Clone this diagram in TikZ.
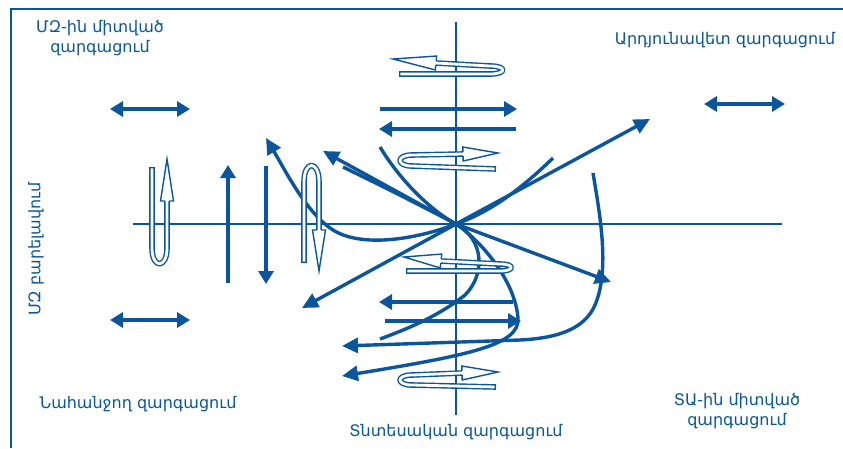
\documentclass[tikz,border=0pt]{standalone}
\usepackage{fontspec}
\setmainfont{DejaVu Sans}
\usetikzlibrary{arrows.meta,calc}
\definecolor{db}{RGB}{10,85,155}
\begin{document}
\begin{tikzpicture}[x=1pt,y=-1pt,
  axis/.style={draw=db,line width=2.2pt},
  frameline/.style={draw=db,line width=2pt},
  arr/.style={draw=db,line width=3.8pt,-{Triangle[length=13pt,width=15pt]}},
  darr/.style={draw=db,line width=3.6pt,{Triangle[length=13pt,width=15pt]}-{Triangle[length=13pt,width=15pt]}},
  crv/.style={draw=db,line width=3.4pt},
  crvarr/.style={crv,-{Triangle[length=16pt,width=15pt]}},
  rout/.style={draw=db,line width=5.6pt,line cap=butt,line join=round},
  rin/.style={draw=white,line width=2.8pt,line cap=butt,line join=round,shorten <=1.4pt},
  rhead/.style={draw=db,fill=white,line width=1.4pt,line join=miter},
  lbl/.style={text=db,font=\fontsize{16}{20}\selectfont,align=center,inner sep=0pt},
]
\useasboundingbox (0,0) rectangle (843,448);
% frame
\draw[frameline] (11,448) -- (11,9) -- (843,9);
% axes
\coordinate (O) at (456,224);
\coordinate (axl) at (133,224);
\coordinate (axr) at (782,224);
\coordinate (axt) at (456,22);
\coordinate (axb) at (456,415);
\draw[axis] (axl) -- (axr);
\draw[axis] (axt) -- (axb);

% labels
\node[lbl] (t1) at (100,38) {ՄԶ-ին միտված\\զարգացում};
\node[lbl] (t2) at (725,40) {Արդյունավետ զարգացում};
\node[lbl,rotate=90] (t3) at (36,249) {ՄԶ բարելավում};
\node[lbl] (t4) at (138,404) {Նահանջող զարգացում};
\node[lbl] (t5) at (456,432) {Տնտեսական զարգացում};
\node[lbl] (t6) at (737,411) {ՏԱ-ին միտված\\զարգացում};

% double arrows
\coordinate (d1a) at (110,109); \coordinate (d1b) at (190,109);
\coordinate (d2a) at (110,320); \coordinate (d2b) at (190,320);
\coordinate (d3a) at (704,104); \coordinate (d3b) at (785,104);
\draw[darr] (d1a) -- (d1b);
\draw[darr] (d2a) -- (d2b);
\draw[darr] (d3a) -- (d3b);

% vertical arrows left
\coordinate (v1a) at (228,283); \coordinate (v1b) at (228,165);
\coordinate (v2a) at (266,166); \coordinate (v2b) at (266,284);
\draw[arr] (v1a) -- (v1b);
\draw[arr] (v2a) -- (v2b);

% horizontal arrows on vertical axis
\coordinate (h1a) at (380,109); \coordinate (h1b) at (517,109);
\coordinate (h2a) at (516,129); \coordinate (h2b) at (379,129);
\coordinate (h3a) at (513,302); \coordinate (h3b) at (379,302);
\coordinate (h4a) at (385,321); \coordinate (h4b) at (521,321);
\draw[arr] (h1a) -- (h1b);
\draw[arr] (h2a) -- (h2b);
\draw[arr] (h3a) -- (h3b);
\draw[arr] (h4a) -- (h4b);

% straight arrows from origin
\coordinate (s1) at (650,119);
\coordinate (s2) at (611,282);
\coordinate (s3) at (302,308);
\coordinate (s4) at (323,151);
\draw[crvarr] (O) -- (s1);
\draw[crvarr] (O) -- (s2);
\draw[crvarr] (O) -- (s3);
\draw[crvarr] (O) -- (s4);

% curves
\coordinate (cA0) at (553,158); \coordinate (cA1) at (266,138);
\draw[crvarr] (cA0) .. controls (520,190) and (490,212) .. (O)
  .. controls (420,238) and (360,250) .. (330,228)
  .. controls (305,210) and (285,170) .. (cA1);
\coordinate (cC0) at (380,147); \coordinate (cC1) at (342,376);
\draw[crvarr] (cC0) .. controls (400,180) and (430,210) .. (O)
  .. controls (480,240) and (515,280) .. (518,318)
  .. controls (520,345) and (470,355) .. (cC1);
\coordinate (cD0) at (343,167); \coordinate (cD1) at (380,339);
\draw[crv] (cD0) .. controls (380,185) and (420,205) .. (O)
  .. controls (485,240) and (485,275) .. (465,295)
  .. controls (440,315) and (410,328) .. (cD1);
\coordinate (cE0) at (593,173); \coordinate (cE1) at (342,346);
\draw[crvarr] (cE0) .. controls (600,215) and (610,270) .. (595,305)
  .. controls (585,328) and (560,338) .. (520,340) -- (cE1);

% ribbons
% left loop, arrow up
\coordinate (L1b) at (167,201); \coordinate (L1t) at (167,159);
\draw[rout] (152,167) -- (152,248) .. controls (152,269) and (167,269) .. (167,248) -- (L1b);
\draw[rin] (152,167) -- (152,248) .. controls (152,269) and (167,269) .. (167,248) -- (L1b);
\draw[rhead] ($(L1b)!2.1pt!90:(L1t)$) -- ($(L1b)!6.5pt!90:(L1t)$) -- (L1t) -- ($(L1b)!6.5pt!-90:(L1t)$) -- ($(L1b)!2.1pt!-90:(L1t)$);
% right loop, arrow down
\coordinate (L2b) at (319,230); \coordinate (L2t) at (319,271);
\draw[rout] (304,263) -- (304,182) .. controls (304,160) and (319,160) .. (319,182) -- (L2b);
\draw[rin] (304,263) -- (304,182) .. controls (304,160) and (319,160) .. (319,182) -- (L2b);
\draw[rhead] ($(L2b)!2.1pt!90:(L2t)$) -- ($(L2b)!6.5pt!90:(L2t)$) -- (L2t) -- ($(L2b)!6.5pt!-90:(L2t)$) -- ($(L2b)!2.1pt!-90:(L2t)$);
% top ribbon 1, arrow left
\coordinate (T1b) at (436,63); \coordinate (T1t) at (393,59);
\draw[rout] (399,74) -- (490,74) .. controls (507,74) and (507,66) .. (490,66) -- (T1b);
\draw[rin] (399,74) -- (490,74) .. controls (507,74) and (507,66) .. (490,66) -- (T1b);
\draw[rhead] ($(T1b)!2.1pt!90:(T1t)$) -- ($(T1b)!7pt!90:(T1t)$) -- (T1t) -- ($(T1b)!7pt!-90:(T1t)$) -- ($(T1b)!2.1pt!-90:(T1t)$);
% top ribbon 2, arrow right
\coordinate (T2b) at (463,154); \coordinate (T2t) at (498,153);
\draw[rout] (496,169) -- (412,166) .. controls (396,166) and (396,155) .. (412,155) -- (T2b);
\draw[rin] (496,169) -- (412,166) .. controls (396,166) and (396,155) .. (412,155) -- (T2b);
\draw[rhead] ($(T2b)!2.1pt!90:(T2t)$) -- ($(T2b)!7pt!90:(T2t)$) -- (T2t) -- ($(T2b)!7pt!-90:(T2t)$) -- ($(T2b)!2.1pt!-90:(T2t)$);
% bottom ribbon 1, arrow left
\coordinate (B1b) at (441,261); \coordinate (B1t) at (404,257);
\draw[rout] (406,271) -- (500,271) .. controls (515,271) and (515,264) .. (500,264) -- (B1b);
\draw[rin] (406,271) -- (500,271) .. controls (515,271) and (515,264) .. (500,264) -- (B1b);
\draw[rhead] ($(B1b)!2.1pt!90:(B1t)$) -- ($(B1b)!7pt!90:(B1t)$) -- (B1t) -- ($(B1b)!7pt!-90:(B1t)$) -- ($(B1b)!2.1pt!-90:(B1t)$);
% bottom ribbon 2, arrow right
\coordinate (B2b) at (462,373); \coordinate (B2t) at (498,372);
\draw[rout] (496,387) -- (412,385) .. controls (396,385) and (396,375) .. (412,375) -- (B2b);
\draw[rin] (496,387) -- (412,385) .. controls (396,385) and (396,375) .. (412,375) -- (B2b);
\draw[rhead] ($(B2b)!2.1pt!90:(B2t)$) -- ($(B2b)!7pt!90:(B2t)$) -- (B2t) -- ($(B2b)!7pt!-90:(B2t)$) -- ($(B2b)!2.1pt!-90:(B2t)$);
\end{tikzpicture}
\end{document}
